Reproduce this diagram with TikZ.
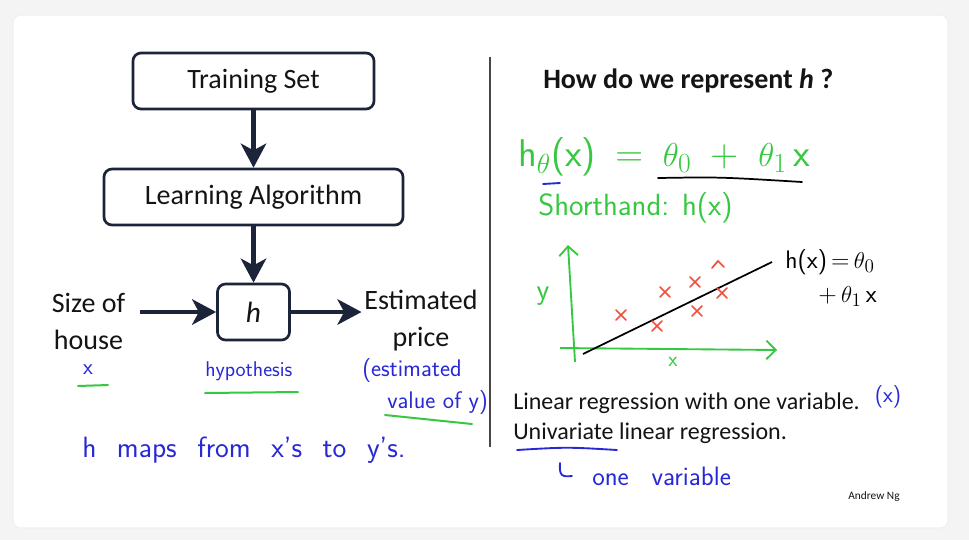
\documentclass[tikz,border=0pt]{standalone}
\usepackage{fontspec}
\setmainfont{Carlito}
\usetikzlibrary{arrows.meta}
\definecolor{navy}{RGB}{28,36,58}
\definecolor{hgreen}{RGB}{55,200,65}
\definecolor{hblue}{RGB}{40,40,215}
\definecolor{hred}{RGB}{240,80,60}
\definecolor{bgc}{RGB}{244,244,244}
\definecolor{txt}{RGB}{20,20,20}
\definecolor{divc}{RGB}{70,70,70}
\begin{document}
\begin{tikzpicture}[x=0.75pt,y=-0.75pt,
  box/.style={draw=navy, line width=2pt, rounded corners=6pt, fill=white,
    minimum height=42pt, inner sep=0pt, text=txt},
  slidefont/.style={font=\fontsize{21}{27.75}\selectfont},
  arr/.style={navy, line width=3.6pt, -{Stealth[length=18pt,width=19pt,inset=5pt]}},
  plain/.style={text=txt, inner sep=0pt},
  hwg/.style={text=hgreen, inner sep=0pt},
  hwb/.style={text=hblue, inner sep=0pt},
  hwk/.style={text=black, inner sep=0pt},
  gline/.style={hgreen, line width=1.5pt, line cap=round},
  bline/.style={hblue, line width=1.4pt, line cap=round},
  redx/.style={hred, line width=1.3pt, line cap=round},
  axis/.style={hgreen, line width=1.4pt, -{Straight Barb[length=7pt,width=14pt]}},
  divider/.style={divc, line width=1.5pt}]
\useasboundingbox (0,0) rectangle (969,540);
\fill[bgc] (0,0) rectangle (969,540);
\filldraw[fill=white, draw=black!6, line width=0.8pt, rounded corners=6pt] (13,15) rectangle (948,528);

% flow diagram
\node[box, slidefont, minimum width=180.75pt] (ts) at (253.5,81) {Training Set};
\node[box, slidefont, minimum width=224.25pt] (la) at (253.5,197) {Learning Algorithm};
\node[box, font=\itshape\fontsize{22}{26}\selectfont, minimum width=54pt] (hb) at (253.5,312) {h};
\node[plain, slidefont, align=center, inner xsep=11pt] (size) at (88.5,321) {Size of\\house};
\node[plain, slidefont, align=center, inner xsep=2pt] (est) at (421,321) {Estimated\\price};
\draw[arr] (size.east |- hb.west) -- (hb.west);
\draw[arr] (ts) -- (la);
\draw[arr] (la) -- (hb);
\draw[arr] (hb.east) -- (est.west |- hb.east);

% divider
\coordinate (d1) at (490,57);
\coordinate (d2) at (490,447);
\draw[divider] (d1) -- (d2);

% title
\node[plain, anchor=base west, font=\bfseries\fontsize{21}{25}\selectfont] (title) at (543,88) {How do we represent \textit{h} ?};

% hypothesis formula
\node[hwg, anchor=base west, font=\sffamily\fontsize{29}{34}\selectfont] (f1) at (518,166) {h$_\theta$(x)\enspace=\enspace$\theta_0$\enspace+\enspace$\theta_1$\,x};
\draw[black, line width=1.3pt, line cap=round] (658,178) .. controls (720,177) .. (802,182);
\draw[bline] (543,184) -- (560,183);
\node[hwg, anchor=base west, font=\sffamily\fontsize{23}{27}\selectfont] (sh) at (538,215) {Shorthand: h(x)};

% graph
\coordinate (yb) at (575,362);
\coordinate (yt) at (568,245);
\coordinate (xl) at (560,348);
\coordinate (xr) at (777,350);
\draw[axis] (yb) -- (yt);
\draw[axis] (xl) -- (xr);
\node[hwg, font=\sffamily\fontsize{22}{26}\selectfont] (ylab) at (543,296) {y};
\node[hwg, font=\sffamily\fontsize{16}{18}\selectfont] (xlab) at (673,362) {x};
\coordinate (l1) at (583,354);
\coordinate (l2) at (772,262);
\draw[black, line width=1.3pt] (l1) -- (l2);
\foreach \p in {(621,315),(665,292),(695,282),(722,293),(697,311),(657,326)}
  \draw[redx] \p ++(-5,-5) -- ++(10,10) \p ++(5,-5) -- ++(-10,10);
\draw[redx] (712,268) -- (718,261) -- (724,267);
\node[hwk, anchor=base west, font=\sffamily\fontsize{19}{22}\selectfont] (hl1) at (785,268) {h(x)\,=\,$\theta_0$};
\node[hwk, anchor=base west, font=\sffamily\fontsize{19}{22}\selectfont] (hl2) at (818,302) {+\,$\theta_1$\,x};

% left annotations
\node[hwb, font=\sffamily\fontsize{17}{20}\selectfont] (xin) at (88,370) {x};
\draw[gline] (78,386) -- (108,385);
\node[hwb, anchor=base west, font=\sffamily\fontsize{16}{19}\selectfont] (hyp) at (205,376) {hypothesis};
\draw[gline] (205,393) -- (298,392);
\node[hwb, anchor=base west, font=\sffamily\fontsize{18}{22}\selectfont] (est1) at (362,376) {(estimated};
\node[hwb, anchor=base west, font=\sffamily\fontsize{18}{22}\selectfont] (est2) at (387,408) {value of y)};
\draw[gline] (385,415) -- (472,424);
\node[hwb, anchor=base west, font=\sffamily\fontsize{22}{26}\selectfont] (maps) at (82,457) {\spaceskip=0.7em h maps from x's to y's.};

% right bottom
\node[plain, anchor=base west, font=\fontsize{18}{21}\selectfont] (lr1) at (513,409) {Linear regression with one variable.};
\node[plain, anchor=base west, font=\fontsize{18}{21}\selectfont] (lr2) at (513,439) {Univariate linear regression.};
\node[hwb, font=\sffamily\fontsize{17}{20}\selectfont] (xpar) at (888,397) {(x)};
\draw[bline] (517,450) .. controls (567,447) .. (617,450);
\draw[bline] (560,463) .. controls (559,476) and (562,477) .. (572,476);
\node[hwb, anchor=base west, font=\sffamily\fontsize{20}{24}\selectfont] (onev) at (592,485) {\spaceskip=0.85em one variable};
\node[plain, font=\fontsize{8.5}{10}\selectfont] (ng) at (874,497) {Andrew Ng};
\end{tikzpicture}
\end{document}
